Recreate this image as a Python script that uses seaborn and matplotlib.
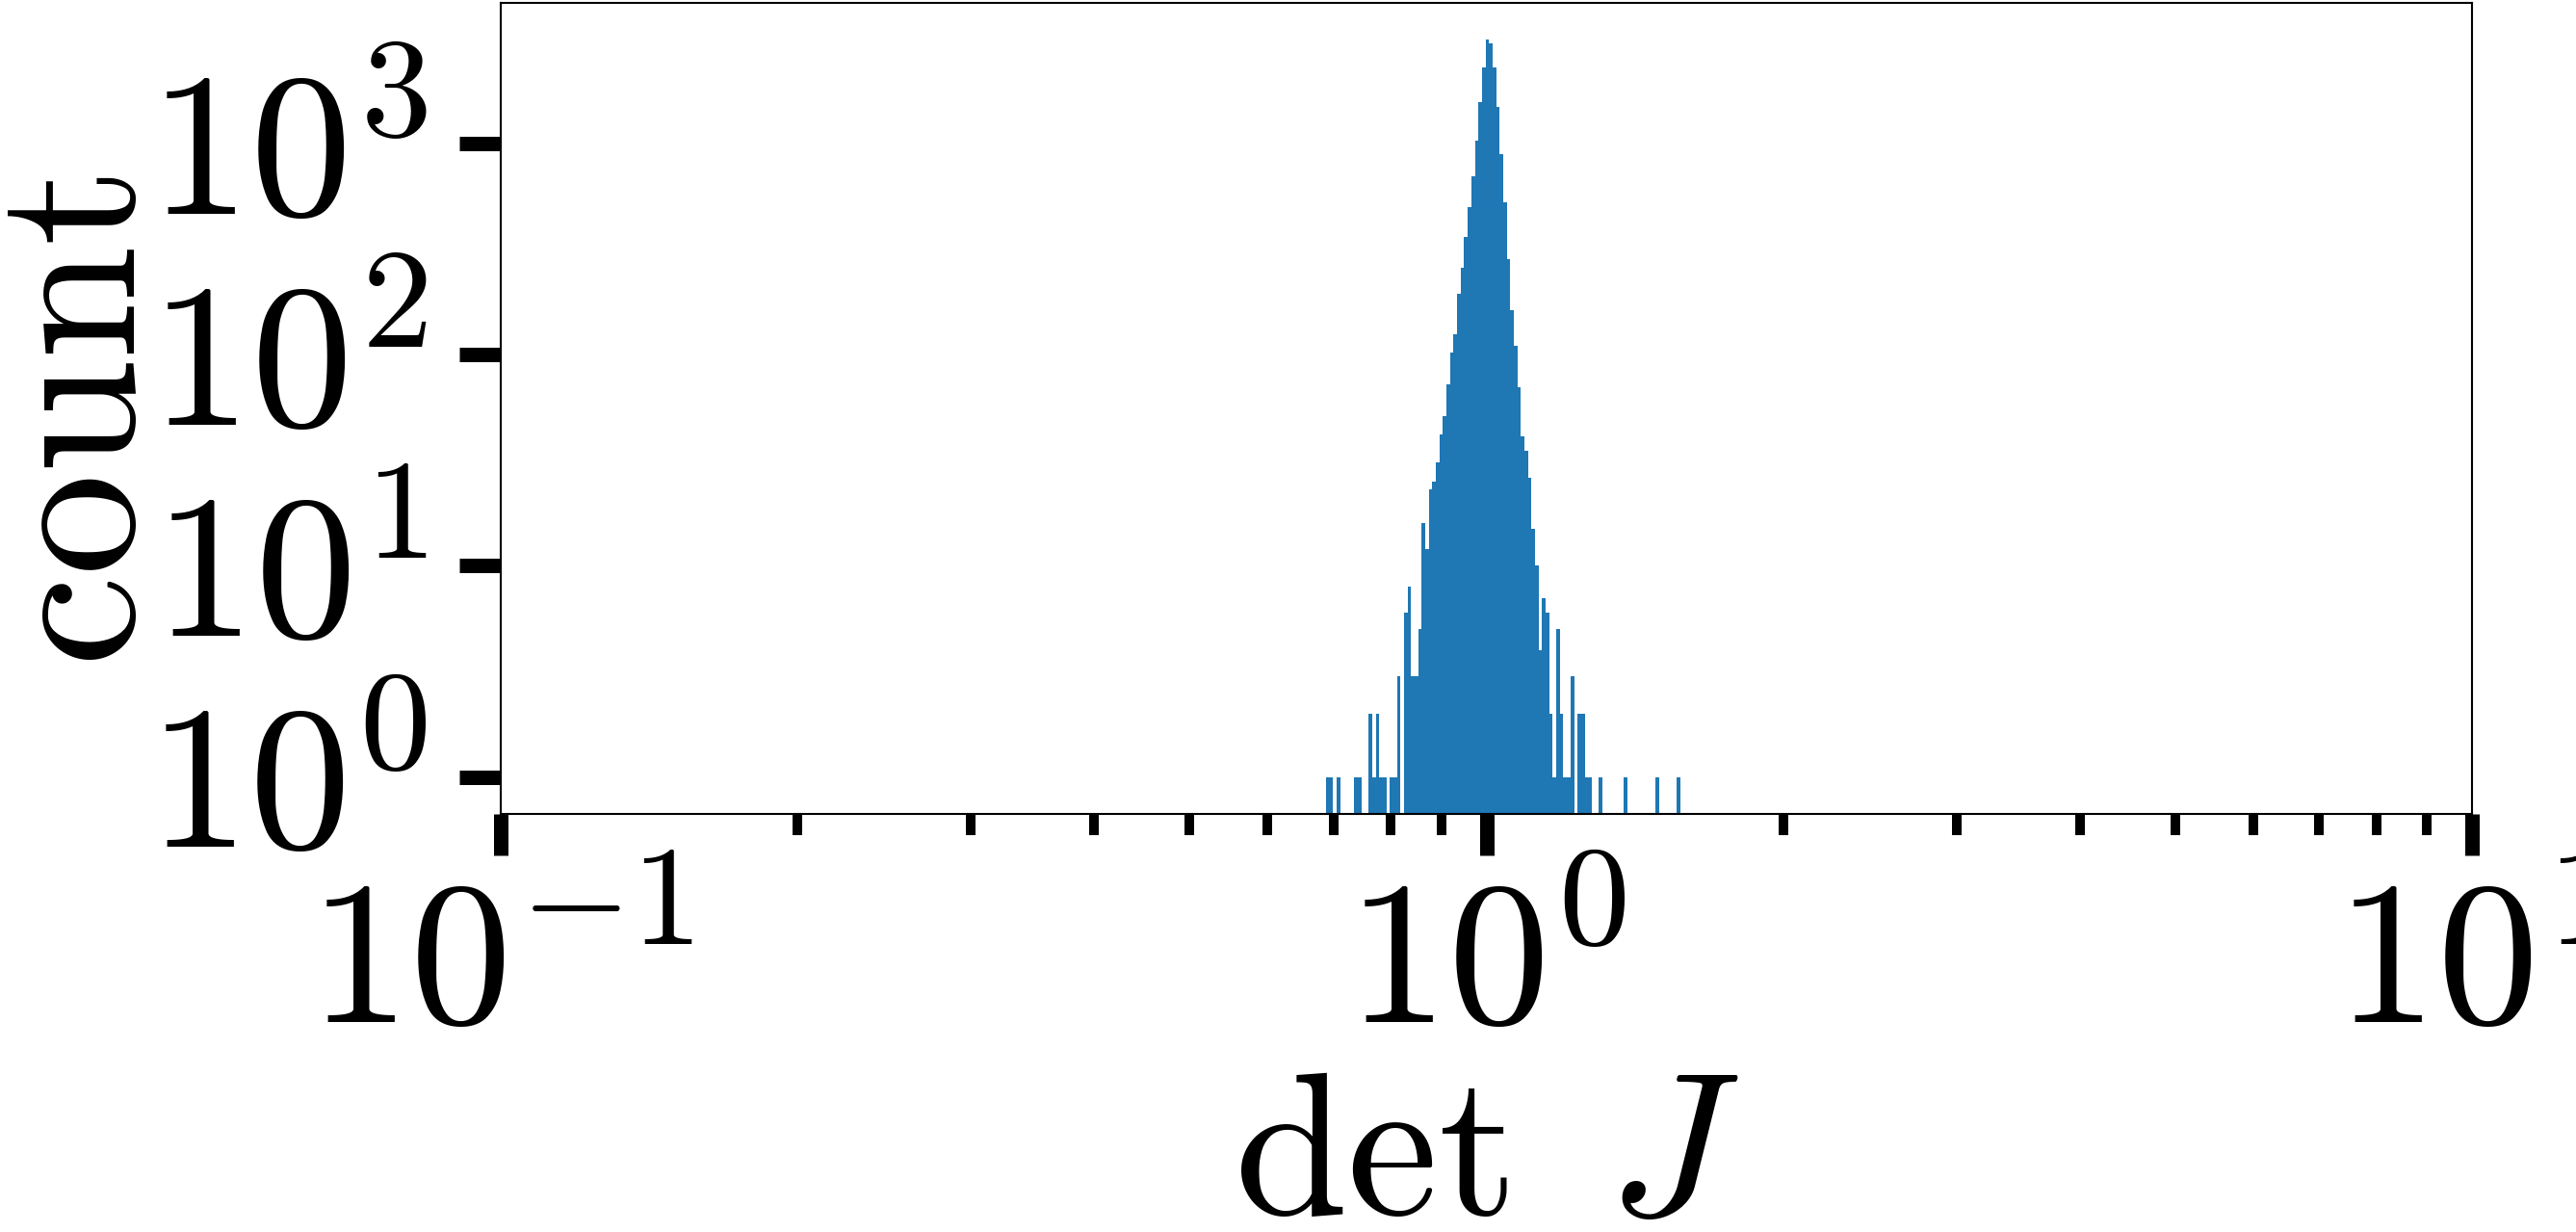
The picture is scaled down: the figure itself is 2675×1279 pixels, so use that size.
import numpy as np
import pandas as pd
import matplotlib
matplotlib.use("Agg")
import matplotlib.pyplot as plt
import matplotlib.ticker as mticker
import seaborn as sns

# ---------------- data ----------------
bin_lo = 0.6876      # left edge of first histogram bin
bin_hi = 1.573       # right edge of last histogram bin
counts = [1, 1, 0, 1, 0, 0, 0, 0, 1, 1,
          0, 0, 2, 1, 2, 1, 1, 0, 1, 1,
          3, 0, 6, 8, 3, 3, 5, 16, 12, 23,
          25, 31, 42, 51, 72, 102, 125, 195, 259, 362,
          501, 700, 1032, 1568, 2286, 3097, 2970, 2286, 1489, 891,
          528, 285, 162, 110, 70, 41, 35, 26, 15, 10,
          4, 7, 6, 2, 1, 5, 2, 1, 1, 3,
          0, 2, 2, 1, 1, 0, 0, 1, 0, 0,
          0, 0, 0, 0, 1, 0, 0, 0, 0, 0,
          0, 0, 0, 1, 0, 0, 0, 0, 0, 1]
x_ticks = [0.1, 1, 10]
x_tick_labels = [r"$10^{-1}$", r"$10^{0}$", r"$10^{1}$"]
y_ticks = [1, 10, 100, 1000]
y_tick_labels = [r"$10^{0}$", r"$10^{1}$", r"$10^{2}$", r"$10^{3}$"]
x_label = r"$\det\ J$"
y_label = "count"

# ---------------- style ----------------
sns.set_style("ticks")
plt.rcParams["font.family"] = ["cmr10", "DejaVu Sans"]
plt.rcParams["mathtext.fontset"] = "cm"
plt.rcParams["axes.formatter.use_mathtext"] = True
plt.rcParams["axes.unicode_minus"] = False
plt.rcParams["text.color"] = "black"
plt.rcParams["axes.labelcolor"] = "black"
plt.rcParams["xtick.color"] = "black"
plt.rcParams["ytick.color"] = "black"
plt.rcParams["xtick.labelcolor"] = "black"
plt.rcParams["ytick.labelcolor"] = "black"

nb = len(counts)
edges = np.logspace(np.log10(bin_lo), np.log10(bin_hi), nb + 1)
centers = np.sqrt(edges[:-1] * edges[1:])
df = pd.DataFrame({
    "detJ": np.r_[edges[0], centers, edges[-1]],
    "w": np.r_[0, counts, 0],
})

fig, ax = plt.subplots(figsize=(26.75, 12.79), dpi=100)
fig.subplots_adjust(left=520 / 2675, right=2567 / 2675,
                    bottom=1 - 845 / 1279, top=1 - 3 / 1279)

sns.histplot(data=df, x="detJ", weights="w", bins=nb, log_scale=True,
             color="#1f77b4", alpha=1, linewidth=0, ax=ax)
ax.set_yscale("log")

ax.set_xlim(0.1, 10)
ax.set_ylim(10 ** -0.175, 10 ** 3.666)

ax.set_xticks(x_ticks, x_tick_labels)
ax.xaxis.set_minor_locator(mticker.LogLocator(base=10, subs=np.arange(2, 10)))
ax.xaxis.set_minor_formatter(mticker.NullFormatter())
ax.set_yticks(y_ticks, y_tick_labels)
ax.yaxis.set_minor_locator(mticker.NullLocator())

ax.tick_params(which="major", length=31, width=10.8, direction="out",
               labelsize=152, color="black", labelcolor="black")
ax.tick_params(which="minor", length=16, width=7.2, direction="out",
               color="black")
ax.tick_params(axis="x", which="major", pad=19)
ax.tick_params(axis="y", which="major", pad=24)

for s in ax.spines.values():
    s.set_visible(True)
    s.set_linewidth(1.5)
    s.set_color("black")

ax.set_xlabel(x_label, fontsize=153, labelpad=8, color="black")
ax.set_ylabel(y_label, fontsize=153, labelpad=-15, color="black")

fig.savefig("out.png", dpi=100)
